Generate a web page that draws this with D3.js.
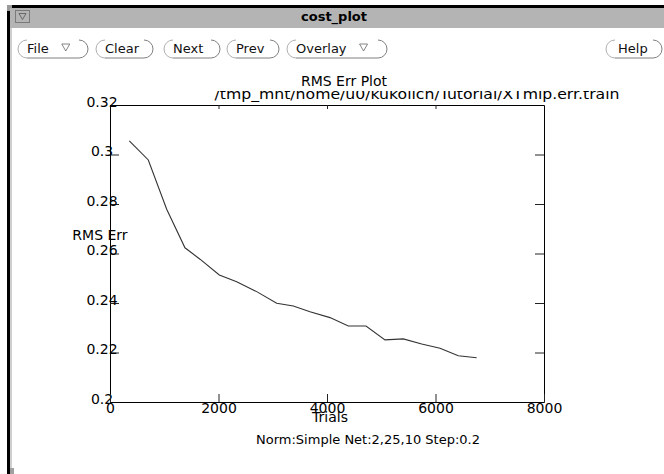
<!DOCTYPE html>
<html><head><meta charset="utf-8">
<script src="https://cdn.jsdelivr.net/npm/d3@7"></script>
<style>
html,body{margin:0;padding:0;background:#fff;overflow:hidden;}
svg{display:block;font-family:"DejaVu Sans",sans-serif;}
</style>
</head><body>
<svg id="c" width="664" height="474"></svg>
<script>
// ---- data ----
const trials = [356, 706, 1045, 1382, 1659, 2015, 2335, 2704, 3073, 3379, 3687, 4055, 4393, 4719, 5069, 5406, 5746, 6083, 6420, 6759];
const rmsErr = [0.3055, 0.2978, 0.2779, 0.2623, 0.2577, 0.2513, 0.2486, 0.2446, 0.2399, 0.2388, 0.2365, 0.2341, 0.2307, 0.2307, 0.2251, 0.2255, 0.2234, 0.2217, 0.2187, 0.2179];
const xTicks = [0, 2000, 4000, 6000, 8000];
const xTickLabels = ["0", "2000", "4000", "6000", "8000"];
const yTicks = [0.2, 0.22, 0.24, 0.26, 0.28, 0.3, 0.32];
const yTickLabels = ["0.2", "0.22", "0.24", "0.26", "0.28", "0.3", "0.32"];
const windowTitle = "cost_plot";
const buttonLabels = ["File", "Clear", "Next", "Prev", "Overlay", "Help"];
const buttonMenus = [true, false, false, false, true, false];
const plotTitle = "RMS Err Plot";
const fileName = "/tmp_mnt/home/u0/kukolich/Tutorial/XTmlp.err.train";
const xLabel = "Trials";
const yLabel = "RMS Err";
const footer = "Norm:Simple Net:2,25,10 Step:0.2";

// ---- layout ----
const svg = d3.select("#c");
const W = 664, H = 474;
const L = 110, R = 544, T = 105, B = 402;

// window chrome
svg.append("rect").attr("x", 0).attr("y", 0).attr("width", W).attr("height", H).attr("fill", "#fff");
svg.append("rect").attr("x", 10).attr("y", 8).attr("width", W - 10).attr("height", 20).attr("fill", "#b4b4b4");
svg.append("rect").attr("x", 12).attr("y", 5).attr("width", W - 12).attr("height", 3).attr("fill", "#000");
svg.append("rect").attr("x", 7).attr("y", 11).attr("width", 3).attr("height", H - 11).attr("fill", "#000");
svg.append("rect").attr("x", 10).attr("y", 28).attr("width", 2).attr("height", H - 34).attr("fill", "#cfcfcf");
svg.append("path").attr("d", "M7,11 L7,5 L12,5 L12,8 L10,8 L10,11 Z").attr("fill", "#9a9a9a");
svg.append("rect").attr("x", 10).attr("y", H - 6).attr("width", 4).attr("height", 6).attr("fill", "#a0a0a0");
// window menu button
svg.append("rect").attr("x", 15.5).attr("y", 10.5).attr("width", 14).attr("height", 12)
  .attr("fill", "#b4b4b4").attr("stroke", "#7a7a7a");
svg.append("path").attr("d", "M19,13.5 L26,13.5 L22.5,19.5 Z").attr("fill", "none").attr("stroke", "#555").attr("stroke-width", 0.8);
svg.append("text").attr("x", 334).attr("y", 21).attr("text-anchor", "middle")
  .attr("font-size", 13).attr("font-weight", "bold").attr("fill", "#000").text(windowTitle);

// buttons
const btnX = [18, 96, 164, 227, 287, 606];
const btnW = [70, 57, 56, 52, 100, 56];
const bTop = 39, bBot = 58, r = 9;
buttonLabels.forEach((lab, i) => {
  const x0 = btnX[i], x1 = btnX[i] + btnW[i];
  svg.append("path")
    .attr("d", `M${x0 + r},${bTop + 1} A${r},${r} 0 0 0 ${x0 + r},${bBot}`)
    .attr("fill", "none").attr("stroke", "#b0b0b0").attr("stroke-width", 1);
  svg.append("path")
    .attr("d", `M${x0 + r},${bBot} L${x1 - r},${bBot} A${r},${r} 0 0 0 ${x1 - r},${bTop + 1}`)
    .attr("fill", "none").attr("stroke", "#808080").attr("stroke-width", 1);
  const t = svg.append("text").attr("x", x0 + (i === 5 ? 12 : 9)).attr("y", 53)
    .attr("font-size", 13).attr("fill", "#111").text(lab);
  if (buttonMenus[i]) {
    const tw = t.node().getComputedTextLength();
    const mx = x0 + 9 + tw + 13;
    svg.append("path").attr("d", `M${mx},44 L${mx + 8},44 L${mx + 4},51 Z`)
      .attr("fill", "none").attr("stroke", "#666").attr("stroke-width", 0.8);
  }
});

// scales
const x = d3.scaleLinear().domain([0, 8000]).range([L, R]);
const y = d3.scaleLinear().domain([0.2, 0.32]).range([B, T]);

const g = svg.append("g");
const ax = (sel) => { sel.select(".domain").attr("stroke", "#000").attr("stroke-width", 1);
  sel.selectAll(".tick line").attr("stroke", "#222"); };

g.append("g").attr("transform", `translate(${L},0)`)
  .call(d3.axisLeft(y).tickValues(yTicks).tickSize(-9).tickSizeOuter(0)
    .tickFormat((d, i) => yTickLabels[i]))
  .call(ax)
  .call(s => s.selectAll("text").attr("x", -8).attr("dy", 1).attr("text-anchor", "middle")
    .attr("font-size", 14).attr("font-family", "DejaVu Sans").attr("fill", "#000"));

g.append("g").attr("transform", `translate(${R},0)`)
  .call(d3.axisRight(y).tickValues(yTicks.slice(1, -1)).tickSize(-9).tickSizeOuter(0).tickFormat(""))
  .call(ax);

g.append("g").attr("transform", `translate(0,${B})`)
  .call(d3.axisBottom(x).tickValues(xTicks).tickSize(-8).tickSizeOuter(0)
    .tickFormat((d, i) => xTickLabels[i]))
  .call(ax)
  .call(s => s.selectAll("text").attr("y", 11).attr("dy", 0)
    .attr("font-size", 14).attr("font-family", "DejaVu Sans").attr("fill", "#000"));

g.append("g").attr("transform", `translate(0,${T})`)
  .call(d3.axisTop(x).tickValues(xTicks.slice(1, -1)).tickSize(-4).tickSizeOuter(0).tickFormat(""))
  .call(ax);

// line
const pts = trials.map((t, i) => [t, rmsErr[i]]);
g.append("path").datum(pts)
  .attr("d", d3.line().x(d => x(d[0])).y(d => y(d[1])))
  .attr("fill", "none").attr("stroke", "#333").attr("stroke-width", 1.1);

// titles
svg.append("text").attr("x", 344).attr("y", 86).attr("text-anchor", "middle")
  .attr("font-size", 14).attr("fill", "#000").text(plotTitle);
svg.append("clipPath").attr("id", "fclip").append("rect")
  .attr("x", 0).attr("y", 91).attr("width", W).attr("height", 20);
svg.append("text").attr("x", 417).attr("y", 99).attr("text-anchor", "middle")
  .attr("font-size", 14).attr("fill", "#000").attr("clip-path", "url(#fclip)")
  .attr("textLength", 405).attr("lengthAdjust", "spacingAndGlyphs").text(fileName);

svg.append("text").attr("x", 100).attr("y", 240).attr("text-anchor", "middle")
  .attr("font-size", 14).attr("fill", "#000").text(yLabel);
svg.append("text").attr("x", 330).attr("y", 422).attr("text-anchor", "middle")
  .attr("font-size", 14).attr("fill", "#000").text(xLabel);
svg.append("text").attr("x", 368).attr("y", 444).attr("text-anchor", "middle")
  .attr("font-size", 13).attr("fill", "#000").text(footer);
</script>
</body></html>
